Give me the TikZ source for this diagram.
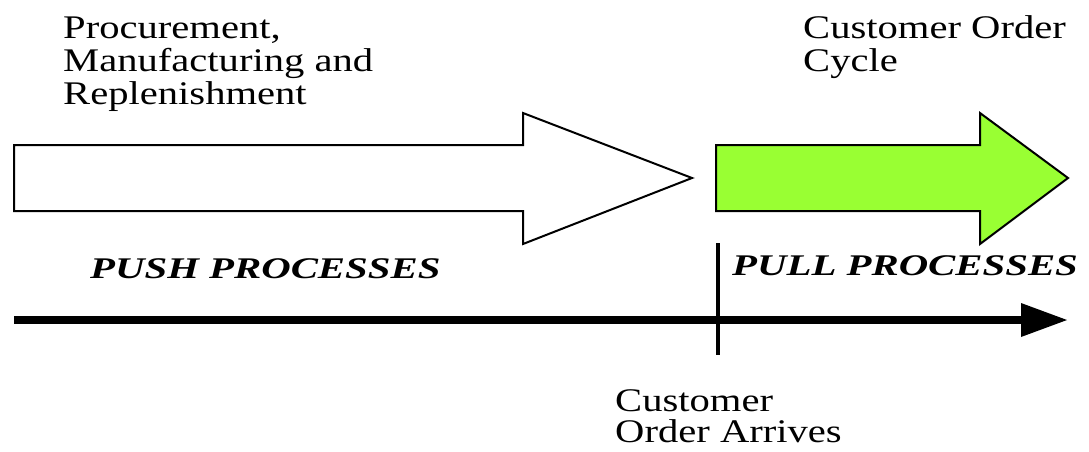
\documentclass[tikz,border=0pt]{standalone}
\usepackage{fontspec}
\setmainfont{Liberation Serif}
\newfontfamily\lblfont[FakeStretch=1.23]{Liberation Serif}
\newfontfamily\procfont[FakeStretch=1.36]{Liberation Serif}
\definecolor{pullgreen}{RGB}{153,255,51}
\begin{document}
\begin{tikzpicture}[x=1pt,y=-1pt,
  label text/.style={inner sep=0pt,anchor=north west,align=left,
    font=\lblfont\fontsize{33}{33}\selectfont},
  phase text/.style={inner sep=0pt,anchor=north west,
    font=\procfont\bfseries\itshape\fontsize{30}{30}\selectfont},
  block arrow/.style={draw=black,line width=2pt,line join=miter},
  axis line/.style={line width=8pt},
  divider/.style={line width=4pt}]
\useasboundingbox (0,0) rectangle (1089,451);

% push stage: outlined block arrow
\draw[block arrow,fill=white] (14,145) -- (523,145) -- (523,113) -- (692,178)
  -- (523,244) -- (523,211) -- (14,211) -- cycle;

% pull stage: green block arrow
\draw[block arrow,fill=pullgreen] (716,145) -- (980,145) -- (980,113) -- (1068,178)
  -- (980,244) -- (980,211) -- (716,211) -- cycle;

% time axis
\coordinate (axisstart) at (14,319.5);
\coordinate (axisend) at (1024,319.5);
\coordinate (axistip) at (1067,320);
\draw[axis line] (axisstart) -- (axisend);
\fill (1021,303) -- (axistip) -- (1021,337) -- cycle;

% push/pull boundary
\coordinate (divtop) at (718,243);
\coordinate (divbot) at (718,355);
\draw[divider] (divtop) -- (divbot);

% labels
\node[label text] (proc) at (63,17) {Procurement,\\Manufacturing and\\Replenishment};
\node[label text] (cycle) at (803,15) {Customer Order\\Cycle};
\node[label text,font=\lblfont\fontsize{33}{31}\selectfont] (arrives) at (615,389)
  {Customer\\Order Arrives};
\node[phase text] (push) at (90,258) {PUSH PROCESSES};
\node[phase text] (pull) at (732,255) {PULL PROCESSES};
\end{tikzpicture}
\end{document}
